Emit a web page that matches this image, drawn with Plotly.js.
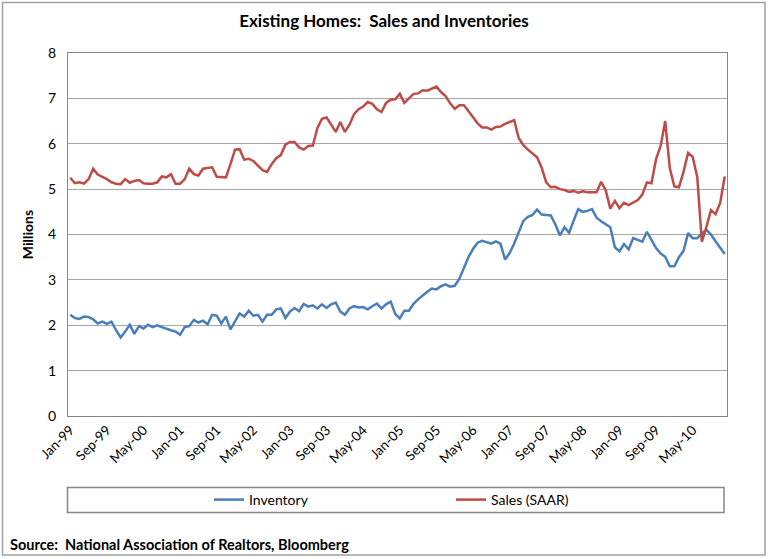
<!DOCTYPE html>
<html>
<head>
<meta charset="utf-8">
<script src="https://cdn.plot.ly/plotly-3.0.1.min.js"></script>
<style>html,body{margin:0;padding:0;background:#fff;}#chart{width:768px;height:559px;}</style>
</head>
<body>
<div id="chart"></div>
<script>
var monthNames = ["Jan","Feb","Mar","Apr","May","Jun","Jul","Aug","Sep","Oct","Nov","Dec"];
var years = ["99","00","01","02","03","04","05","06","07","08","09","10"];
var months = [];
for (var y = 0; y < years.length; y++) {
  for (var m = 0; m < 12; m++) { months.push(monthNames[m] + "-" + years[y]); }
}
var tickLabels = ["Jan-99","Sep-99","May-00","Jan-01","Sep-01","May-02","Jan-03","Sep-03","May-04",
                  "Jan-05","Sep-05","May-06","Jan-07","Sep-07","May-08","Jan-09","Sep-09","May-10"];

var inventory = [
  2.23,2.16,2.14,2.19,2.18,2.13,2.04,2.08,2.03,2.08,1.89,1.73,
  1.86,2.01,1.81,1.98,1.93,2.01,1.96,2.00,1.96,1.92,1.89,1.86,
  1.79,1.96,1.98,2.12,2.06,2.10,2.02,2.23,2.21,2.04,2.19,1.91,
  2.10,2.26,2.19,2.32,2.21,2.23,2.08,2.23,2.23,2.35,2.37,2.16,
  2.30,2.38,2.31,2.47,2.41,2.44,2.37,2.46,2.38,2.46,2.50,2.30,
  2.23,2.37,2.42,2.39,2.40,2.35,2.42,2.48,2.37,2.46,2.52,2.25,
  2.15,2.32,2.32,2.47,2.57,2.66,2.74,2.81,2.79,2.86,2.90,2.85,
  2.87,3.02,3.28,3.50,3.68,3.82,3.86,3.83,3.80,3.85,3.80,3.45,
  3.59,3.80,4.05,4.30,4.39,4.43,4.55,4.44,4.43,4.42,4.22,3.98,
  4.16,4.04,4.31,4.56,4.50,4.52,4.56,4.37,4.29,4.22,4.16,3.72,
  3.63,3.79,3.67,3.92,3.88,3.84,4.06,3.89,3.70,3.58,3.51,3.30,
  3.30,3.50,3.64,4.03,3.92,3.92,4.03,4.10,4.00,3.85,3.72,3.57
];
var sales = [
  5.25,5.13,5.15,5.12,5.22,5.45,5.32,5.27,5.22,5.15,5.12,5.11,
  5.22,5.14,5.18,5.20,5.13,5.12,5.12,5.15,5.28,5.26,5.33,5.12,
  5.12,5.22,5.45,5.33,5.30,5.45,5.47,5.48,5.27,5.26,5.26,5.55,
  5.87,5.88,5.65,5.67,5.62,5.52,5.42,5.38,5.55,5.68,5.75,5.98,
  6.04,6.04,5.92,5.87,5.95,5.96,6.35,6.55,6.58,6.42,6.26,6.48,
  6.26,6.42,6.65,6.76,6.82,6.92,6.88,6.76,6.70,6.90,6.97,6.98,
  7.10,6.90,7.00,7.10,7.11,7.18,7.17,7.22,7.26,7.14,7.05,6.89,
  6.77,6.85,6.85,6.72,6.58,6.45,6.36,6.36,6.31,6.37,6.38,6.44,
  6.48,6.52,6.12,5.97,5.87,5.78,5.70,5.47,5.15,5.04,5.05,5.00,
  4.98,4.94,4.96,4.92,4.95,4.93,4.93,4.93,5.16,4.97,4.57,4.74,
  4.58,4.70,4.65,4.70,4.76,4.88,5.15,5.13,5.66,5.95,6.50,5.46,
  5.06,5.04,5.38,5.80,5.71,5.27,3.84,4.17,4.54,4.45,4.69,5.28
];

var FONT = "Lato, 'Open Sans', sans-serif";
var W = 768, H = 559, L = 68, R = 727, T = 53, B = 416;
function px(x) { return (x - L) / (R - L); }
function py(y) { return (B - y) / (B - T); }

var traces = [
  {x: months, y: inventory, type: "scatter", mode: "lines", name: "Inventory", legend: "legend",
   line: {color: "#4A7EBB", width: 2.5}},
  {x: months, y: sales, type: "scatter", mode: "lines", name: "Sales (SAAR)", legend: "legend2",
   line: {color: "#BE4B48", width: 2.5}}
];

var legFont = {family: FONT, size: 14, color: "#000"};
var layout = {
  width: W, height: H,
  margin: {l: L, r: W - R, t: T, b: H - B},
  paper_bgcolor: "#fff", plot_bgcolor: "#fff",
  font: {family: FONT, color: "#000", size: 13},
  title: {text: "<b>Existing Homes:  Sales and Inventories</b>", font: {family: FONT, size: 17, color: "#000"},
          x: 0.5, xanchor: "center", y: 1 - 21 / H, yanchor: "middle"},
  xaxis: {type: "category", range: [-0.5, months.length - 0.5], tickmode: "array",
          tickvals: tickLabels, ticktext: tickLabels, tickangle: -45,
          tickfont: {family: FONT, size: 13.5, color: "#000"},
          showgrid: false, showline: true, linecolor: "#868686", linewidth: 1, mirror: true,
          ticks: "", zeroline: false, fixedrange: true},
  yaxis: {range: [0, 8], dtick: 1, tick0: 0, showgrid: true, gridcolor: "#a6a6a6", gridwidth: 1,
          showline: true, linecolor: "#868686", linewidth: 1, mirror: true, ticks: "",
          ticklabelstandoff: 8, zeroline: false,
          tickfont: {family: FONT, size: 14, color: "#000"},
          title: {text: "<b>Millions</b>", font: {family: FONT, size: 14, color: "#000"}, standoff: 11}},
  showlegend: true,
  legend: {orientation: "h", x: px(209), xanchor: "left", y: py(500), yanchor: "middle",
           font: legFont, bgcolor: "rgba(0,0,0,0)", itemwidth: 30, borderwidth: 0},
  legend2: {orientation: "h", x: px(451), xanchor: "left", y: py(500), yanchor: "middle",
           font: legFont, bgcolor: "rgba(0,0,0,0)", itemwidth: 30, borderwidth: 0},
  shapes: [
    {type: "rect", xref: "paper", yref: "paper", x0: px(67.5), x1: px(724), y0: py(512.5), y1: py(487.5),
     line: {color: "#868686", width: 1.5}, fillcolor: "rgba(0,0,0,0)"},
    {type: "rect", xref: "paper", yref: "paper", x0: px(2.5), x1: px(765), y0: py(555), y1: py(2.5),
     line: {color: "#a0a0a0", width: 1.5}, fillcolor: "rgba(0,0,0,0)"}
  ],
  annotations: [
    {text: "<b>Source:  National Association of Realtors, Bloomberg</b>", xref: "paper", yref: "paper",
     x: px(8), y: py(544), xanchor: "left", yanchor: "middle", showarrow: false,
     font: {family: FONT, size: 14.5, color: "#000"}}
  ]
};

Plotly.newPlot("chart", traces, layout, {displayModeBar: false, staticPlot: true});
</script>
</body>
</html>
